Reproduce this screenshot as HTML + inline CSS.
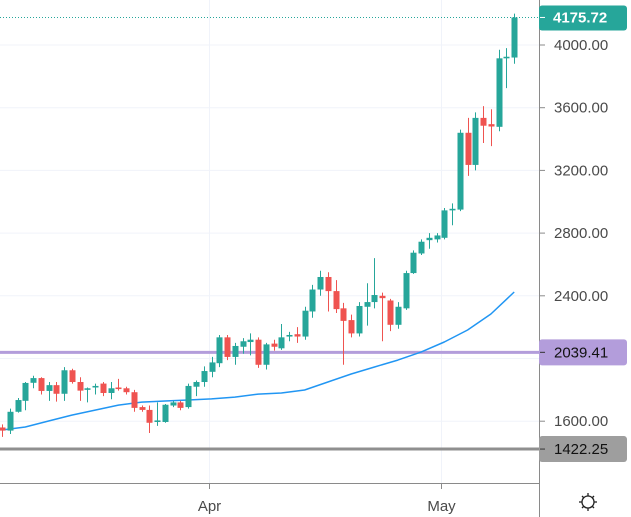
<!DOCTYPE html>
<html><head><meta charset="utf-8"><style>
html,body{margin:0;padding:0;background:#fff;}
svg{display:block;font-family:"Liberation Sans",sans-serif;}
</style></head><body>
<svg id="chart" width="631" height="517" viewBox="0 0 631 517" xmlns="http://www.w3.org/2000/svg">
<g id="grid"></g>
<g id="hlines"></g>
<g id="ma"></g>
<g id="candles"></g>
<g id="axes"></g>
</svg>
<script>
const opens  = [1560,1540,1660,1730,1845,1875,1793,1830,1775,1925,1850,1800,1815,1840,1780,1815,1810,1785,1690,1672,1595,1595,1700,1720,1690,1820,1850,1915,1970,2135,2010,2075,2105,2120,1960,2095,2065,2140,2155,2140,2300,2440,2520,2430,2320,2245,2160,2330,2360,2400,2370,2215,2320,2545,2670,2755,2760,2770,2945,2950,3440,3235,3535,3495,3478,3915,3920];
const closes = [1540,1660,1735,1844,1875,1793,1830,1775,1925,1850,1795,1810,1825,1780,1810,1805,1785,1685,1672,1590,1605,1705,1720,1685,1825,1850,1920,1975,2135,2010,2080,2110,2120,1960,2090,2075,2135,2150,2140,2305,2440,2520,2430,2315,2240,2160,2335,2360,2405,2385,2215,2330,2545,2675,2745,2770,2785,2945,2955,3440,3235,3535,3485,3480,3915,3925,4175.72];
const highs  = [1580,1680,1748,1850,1890,1880,1850,1850,1945,1935,1880,1815,1840,1850,1850,1870,1820,1800,1700,1700,1720,1710,1730,1730,1840,1860,1950,2010,2150,2150,2100,2130,2160,2135,2100,2120,2220,2170,2200,2330,2470,2560,2550,2500,2355,2280,2360,2480,2640,2420,2380,2360,2560,2690,2760,2800,2800,2960,2990,3460,3535,3570,3610,3590,3970,3980,4200];
const lows   = [1500,1518,1655,1670,1810,1770,1730,1725,1730,1840,1730,1720,1770,1760,1740,1795,1770,1660,1660,1525,1570,1590,1690,1670,1680,1760,1820,1880,1945,1990,1960,2030,2020,1940,1930,2050,2055,2110,2100,2120,2260,2400,2300,2290,1960,2135,2140,2210,2320,2110,2175,2190,2310,2540,2660,2700,2740,2760,2850,2940,3165,3200,3375,3355,3450,3725,3880];
const maIdx  = [0,3,6,9,12,15,18,21,24,27,30,33,36,39,42,45,48,51,54,57,60,63,66];
const maVals = [1544,1563,1601,1639,1671,1703,1722,1729,1735,1742,1754,1773,1780,1799,1850,1901,1946,1990,2041,2105,2182,2284,2424];
const priceTicks = [4000,3600,3200,2800,2400,1600];
const priceTickLabels = ["4000.00","3600.00","3200.00","2800.00","2400.00","1600.00"];
const levelValues = [2039.41,1422.25];
const levelLabels = ["2039.41","1422.25"];
const lastPrice = 4175.72;
const lastLabel = "4175.72";
const timeIdx = [26.7,56.6];
const timeLabels = ["Apr","May"];

const NS="http://www.w3.org/2000/svg";
const yOf = v => 45 + (4000 - v) * 0.15675;
const xOf = i => 2 + i * 7.76;
const PW = 539;
function mk(tag, attrs, parent){const e=document.createElementNS(NS,tag);for(const k in attrs)e.setAttribute(k,attrs[k]);parent.appendChild(e);return e;}

const grid=document.getElementById('grid');
[4000,3600,3200,2800,2400,2000,1600].forEach(v=>{
  const l=mk('line',{x1:0,x2:PW,y1:yOf(v),y2:yOf(v),stroke:'#f0f3fa','stroke-width':1},grid);
  
  
});
timeIdx.forEach(i=>{
  const x=Math.round(xOf(i))+0.5;
  const l=mk('line',{x1:x,x2:x,y1:0,y2:483,stroke:'#f0f3fa','stroke-width':1},grid);
  
  
});

const hl=document.getElementById('hlines');
const lastLine=mk('line',{x1:0,x2:PW,y1:yOf(lastPrice),y2:yOf(lastPrice),stroke:'#26a69a','stroke-width':1,'stroke-dasharray':'1,2'},hl);


const levelColors=['#b39ddb','#8f8f8f'];
levelValues.forEach((v,k)=>{
  const l=mk('line',{x1:0,x2:PW,y1:yOf(v),y2:yOf(v),stroke:levelColors[k],'stroke-width':3},hl);
  
  
});

const ma=document.getElementById('ma');
const pts=maIdx.map((i,k)=>xOf(i).toFixed(1)+','+yOf(maVals[k]).toFixed(1)).join(' ');
const pl=mk('polyline',{points:pts,fill:'none',stroke:'#2196f3','stroke-width':1.5,'stroke-linejoin':'round'},ma);



const cg=document.getElementById('candles');
opens.forEach((o,i)=>{
  const c=closes[i], up=c>=o, col=up?'#26a69a':'#ef5350';
  const x=Math.round(xOf(i));
  const g=mk('g',{},cg);
  
  
  mk('line',{x1:x+0.5,x2:x+0.5,y1:yOf(highs[i]),y2:yOf(lows[i]),stroke:col,'stroke-width':1},g);
  const top=yOf(Math.max(o,c)), bot=yOf(Math.min(o,c));
  mk('rect',{x:x-2.5,y:top,width:6,height:Math.max(1.5,bot-top),fill:col},g);
});

const ax=document.getElementById('axes');
let e=mk('line',{x1:539.5,x2:539.5,y1:0,y2:517,stroke:'#8a8a8a','stroke-width':1},ax);


e=mk('line',{x1:0,x2:539.5,y1:483.5,y2:483.5,stroke:'#8a8a8a','stroke-width':1},ax);


priceTicks.forEach((v,k)=>{
  const y=yOf(v);
  mk('line',{x1:540,x2:545,y1:y,y2:y,stroke:'#8a8a8a'},ax);
  const t=mk('text',{x:554,y:y+5,'font-size':15,fill:'#4a4a4a'},ax);
  t.textContent=priceTickLabels[k];
  
  
});
const boxFill=['#b39ddb','#9e9e9e'];
levelValues.forEach((v,k)=>{
  const y=yOf(v);
  const r=mk('rect',{x:539,y:y-13,width:88,height:26,rx:3,fill:boxFill[k]},ax);
  
  
  mk('line',{x1:540,x2:545,y1:y,y2:y,stroke:'#333'},ax);
  const t=mk('text',{x:554,y:y+5,'font-size':15,fill:'#111'},ax);
  t.textContent=levelLabels[k];
  
  
});
{
  const y=yOf(lastPrice);
  const r=mk('rect',{x:539,y:y-12,width:88,height:25,rx:3,fill:'#26a69a'},ax);
  
  
  mk('line',{x1:540,x2:545,y1:y,y2:y,stroke:'#fff'},ax);
  const t=mk('text',{x:553,y:y+5,'font-size':15,'font-weight':'bold',fill:'#fff'},ax);
  t.textContent=lastLabel;
  
  
}
timeIdx.forEach((i,k)=>{
  const x=Math.round(xOf(i))+0.5;
  mk('line',{x1:x,x2:x,y1:484,y2:489,stroke:'#8a8a8a'},ax);
  const t=mk('text',{x:x,y:511,'font-size':15,fill:'#4a4a4a','text-anchor':'middle'},ax);
  t.textContent=timeLabels[k];
  
  
});
const gear=mk('g',{stroke:'#222','stroke-width':1.3,fill:'none'},ax);


mk('circle',{cx:588,cy:502,r:6},gear);
[[588,493,588,496],[588,508,588,511],[579,502,582,502],[594,502,597,502],[582,496,584,498],[592,506,594,508],[582,508,584,506],[592,498,594,496]].forEach(s=>mk('line',{x1:s[0],y1:s[1],x2:s[2],y2:s[3]},gear));
</script>
</body></html>
